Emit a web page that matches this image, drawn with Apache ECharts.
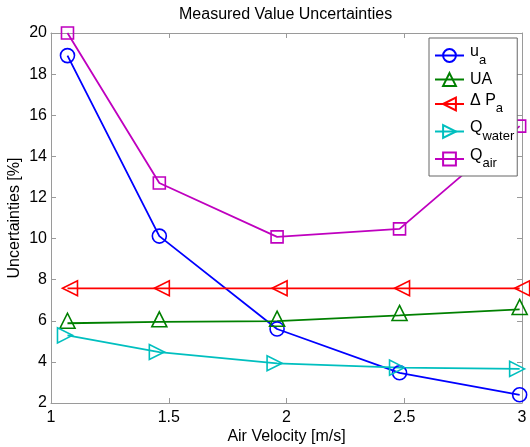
<!DOCTYPE html>
<html>
<head>
<meta charset="utf-8">
<script src="https://cdn.jsdelivr.net/npm/echarts@6/dist/echarts.min.js"></script>
<style>
html,body{margin:0;padding:0;background:#fff;}
#c{width:530px;height:447px;}
</style>
</head>
<body>
<div id="c"></div>
<script>
var airVelocity = [1.07, 1.46, 1.96, 2.48, 2.99];
var uA     = [18.9, 10.12, 5.6, 3.47, 2.4];
var UA     = [5.88, 5.95, 5.98, 6.26, 6.55];
var dPa    = [7.58, 7.58, 7.58, 7.58, 7.58];
var Qwater = [5.29, 4.48, 3.93, 3.72, 3.66];
var Qair   = [20.0, 12.7, 10.08, 10.47, 15.47];

var seriesNames = ['u_a', 'UA', 'dP_a', 'Q_water', 'Q_air'];
var legendLabels = {
  'u_a': '{n|u}{s|a}',
  'UA': '{m|UA}',
  'dP_a': '{n|\u0394 P}{s|a}',
  'Q_water': '{n|Q}{s|water}',
  'Q_air': '{n|Q}{s|air}'
};

var FONT = 'Liberation Sans, Arial, Helvetica, sans-serif';

function pairs(xs, ys) {
  return xs.map(function (x, i) { return [x, ys[i]]; });
}

function mk(name, ys, color, symbol, size, rotate, offset) {
  return {
    name: name,
    type: 'line',
    data: pairs(airVelocity, ys),
    symbol: symbol,
    symbolSize: size,
    symbolRotate: rotate || 0,
    symbolOffset: offset || [0, 0],
    showAllSymbol: true,
    clip: false,
    lineStyle: { color: color, width: 1.8 },
    itemStyle: { color: 'transparent', borderColor: color, borderWidth: 1.6 },
    emphasis: { disabled: true },
    animation: false
  };
}

var axisLineStyle = { lineStyle: { color: '#9a9a9a', width: 1 } };
var tickStyle = { inside: true, length: 5, lineStyle: { color: '#9a9a9a' } };

var chart = echarts.init(document.getElementById('c'));
chart.setOption({
  animation: false,
  backgroundColor: '#fff',
  title: {
    text: 'Measured Value Uncertainties',
    left: 179,
    top: 7,
    padding: 0,
    textStyle: { fontFamily: FONT, fontSize: 16, fontWeight: 'normal', color: '#000' }
  },
  grid: { left: 51, right: 8, top: 33, bottom: 44, containLabel: false, outerBoundsMode: 'none' },
  legend: {
    orient: 'vertical',
    left: 429,
    top: 38,
    padding: [6, 3, 6, 5],
    itemWidth: 29,
    itemHeight: 16,
    itemGap: 5,
    backgroundColor: '#fff',
    borderColor: '#666',
    borderWidth: 1,
    borderRadius: 0,
    data: seriesNames,
    formatter: function (n) { return legendLabels[n]; },
    textStyle: {
      fontFamily: FONT,
      color: '#000',
      padding: [0, 0, 0, 1],
      rich: {
        n: { fontFamily: FONT, fontSize: 16, color: '#000', padding: [0, 0, 7, 0] },
        m: { fontFamily: FONT, fontSize: 16, color: '#000' },
        s: { fontFamily: FONT, fontSize: 13, color: '#000', padding: [9, 0, 0, 0] }
      }
    }
  },
  xAxis: [{
    type: 'value',
    min: 1, max: 3, interval: 0.5,
    position: 'bottom',
    name: 'Air Velocity [m/s]',
    nameLocation: 'middle',
    nameGap: 26,
    nameMoveOverlap: false,
    nameTextStyle: { fontFamily: FONT, fontSize: 16, color: '#000' },
    axisLine: axisLineStyle,
    axisTick: tickStyle,
    axisLabel: { fontFamily: FONT, fontSize: 16, color: '#000', margin: 7 },
    splitLine: { show: false }
  }, {
    type: 'value',
    min: 1, max: 3, interval: 0.5,
    position: 'top',
    axisLine: axisLineStyle,
    axisTick: tickStyle,
    axisLabel: { show: false },
    splitLine: { show: false }
  }],
  yAxis: [{
    type: 'value',
    min: 2, max: 20, interval: 2,
    position: 'left',
    name: 'Uncertainties [%]',
    nameLocation: 'middle',
    nameGap: 28,
    nameMoveOverlap: false,
    nameTextStyle: { fontFamily: FONT, fontSize: 16, color: '#000' },
    axisLine: axisLineStyle,
    axisTick: tickStyle,
    axisLabel: { fontFamily: FONT, fontSize: 16, color: '#000', margin: 4 },
    splitLine: { show: false }
  }, {
    type: 'value',
    min: 2, max: 20, interval: 2,
    position: 'right',
    axisLine: axisLineStyle,
    axisTick: tickStyle,
    axisLabel: { show: false },
    splitLine: { show: false }
  }],
  series: [
    mk('u_a', uA, '#0000ff', 'circle', 14),
    mk('UA', UA, '#008000', 'triangle', 15, 0, [0, -2.5]),
    mk('dP_a', dPa, '#ff0000', 'triangle', 15, 90, [2.5, 0]),
    mk('Q_water', Qwater, '#00bfbf', 'triangle', 15, -90, [-2.5, 0]),
    mk('Q_air', Qair, '#bf00bf', 'rect', 12)
  ]
});
</script>
</body>
</html>
